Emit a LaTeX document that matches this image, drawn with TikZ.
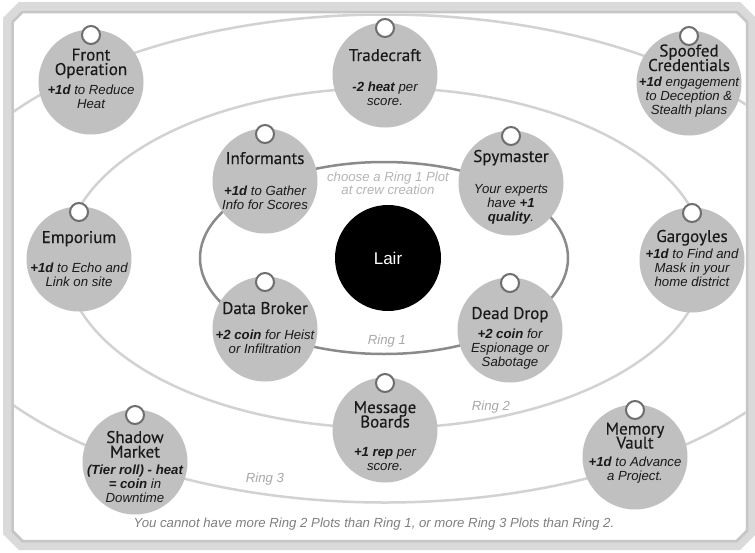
\documentclass[tikz,border=0pt]{standalone}
\usepackage{fontspec}
\setmainfont{Liberation Sans}
\newfontfamily\ttlfont[FakeBold=0.35]{PT Sans}
\usetikzlibrary{calc}
\definecolor{plotgray}{HTML}{C0C0C0}
\definecolor{pindark}{HTML}{6E6E6E}
\definecolor{ink}{HTML}{1A1A1A}
\definecolor{ringA}{HTML}{8A8A8A}
\definecolor{ringB}{HTML}{D2D2D2}
\definecolor{lblgray}{HTML}{A8A8A8}
\definecolor{notegray}{HTML}{808080}
\definecolor{frameL}{HTML}{DADADA}
\definecolor{frameD}{HTML}{C6C6C6}
\begin{document}
\begin{tikzpicture}[x=1pt,y=-1pt,
  plot/.style={circle,fill=plotgray,minimum size=105pt,inner sep=0pt},
  pinc/.style={circle,draw=pindark,line width=2pt,fill=white,minimum size=18pt,inner sep=0pt},
  ttl/.style={font=\ttlfont\fontsize{17}{15}\selectfont,text=ink,inner sep=0pt,anchor=base},
  dsc/.style={font=\itshape\fontsize{13.2}{14}\selectfont,align=center,text=ink,inner sep=0pt},
  ringlbl/.style={font=\itshape\fontsize{13.2}{13}\selectfont,text=lblgray,inner sep=0pt},
  ring/.style={line width=2.5pt}]
\useasboundingbox (0,0) rectangle (755,552);
\fill[white] (0,0) rectangle (755,552);
% frame
\draw[frameL,line width=10pt,line join=miter]
  (8,20) -- (21,7) -- (738,7) -- (751,20) -- (751,532) -- (738,545) -- (21,545) -- (8,532) -- cycle;
\draw[frameD,line width=2.5pt,line join=miter]
  (12.5,22) -- (22.5,12) -- (737,12) -- (747,22) -- (747,531) -- (737,541) -- (22.5,541) -- (12.5,531) -- cycle;
% rings
\begin{scope}
\clip (14,22) -- (22.5,13.5) -- (737,13.5) -- (745.5,22) -- (745.5,531) -- (737,539.5) -- (22.5,539.5) -- (14,531) -- cycle;
\draw[ring,ringB] (385,258.5) ellipse [x radius=465pt, y radius=244pt];
\draw[ring,ringB] (385,258) ellipse [x radius=320pt, y radius=170pt];
\draw[ring,ringA] (384,258) ellipse [x radius=184pt, y radius=96pt];
\end{scope}
% ring labels
\node[ringlbl] (r1) at (387,341) {Ring 1};
\node[ringlbl] (r2) at (491,407) {Ring 2};
\node[ringlbl] (r3) at (265,479) {Ring 3};
\node[ringlbl,align=center,text=lblgray!85] (choose) at (388,183.5) {choose a Ring 1 Plot\\at crew creation};
\node[font=\itshape\fontsize{13.2}{14}\selectfont,text=notegray,inner sep=0pt] (note) at (374,524)
  {You cannot have more Ring 2 Plots than Ring 1, or more Ring 3 Plots than Ring 2.};
% lair
\node[circle,fill=black,minimum size=106pt,inner sep=0pt,text=white,font=\fontsize{17}{20}\selectfont] (lair) at (388,258) {Lair};
% plots
\node[plot] (fo) at (91,82) {};
\node[plot] (tc) at (385,75) {};
\node[plot] (sc) at (689,83) {};
\node[plot] (inf) at (265,181) {};
\node[plot] (spy) at (511,183) {};
\node[plot] (emp) at (79,259) {};
\node[plot] (gar) at (692,260) {};
\node[plot] (db) at (265,329) {};
\node[plot] (dd) at (510,330) {};
\node[plot] (mb) at (385,430) {};
\node[plot] (sm) at (135,462) {};
\node[plot] (mv) at (635,457) {};
% pins
\foreach \n in {fo,tc,sc,inf,spy,emp,gar,db,dd,mb,sm,mv}
  \node[pinc] (\n-pin) at ($(\n)+(0,-47)$) {};
% texts
\node[ttl] (fo-t1) at (91,60.5) {Front};
\node[ttl] (fo-t2) at (91,75) {Operation};
\node[dsc] (fo-d) at (91,97) {\textbf{+1d} to Reduce\\Heat};
\node[ttl] (tc-t) at (385,61) {Tradecraft};
\node[dsc] (tc-d) at (385,94) {\textbf{-2 heat} per\\score.};
\node[ttl] (sc-t1) at (689,56.5) {Spoofed};
\node[ttl] (sc-t2) at (689,71) {Credentials};
\node[dsc] (sc-d) at (689,97) {\textbf{+1d} engagement\\to Deception \&\\Stealth plans};
\node[ttl] (inf-t) at (265,164) {Informants};
\node[dsc] (inf-d) at (265,198) {\textbf{+1d} to Gather\\Info for Scores};
\node[ttl] (spy-t) at (511,162) {Spymaster};
\node[dsc] (spy-d) at (511,204) {Your experts\\have \textbf{+1}\\\textbf{quality}.};
\node[ttl] (emp-t) at (79,243) {Emporium};
\node[dsc] (emp-d) at (79,275) {\textbf{+1d} to Echo and\\Link on site};
\node[ttl] (gar-t) at (692,242) {Gargoyles};
\node[dsc] (gar-d) at (692,268) {\textbf{+1d} to Find and\\Mask in your\\home district};
\node[ttl] (db-t) at (265,314) {Data Broker};
\node[dsc] (db-d) at (265,342) {\textbf{+2 coin} for Heist\\or Infiltration};
\node[ttl] (dd-t) at (510,319) {Dead Drop};
\node[dsc] (dd-d) at (510,349) {\textbf{+2 coin} for\\Espionage or\\Sabotage};
\node[ttl] (mb-t1) at (385,413) {Message};
\node[ttl] (mb-t2) at (385,427.5) {Boards};
\node[dsc] (mb-d) at (385,459.5) {\textbf{+1 rep} per\\score.};
\node[ttl] (sm-t1) at (135,443) {Shadow};
\node[ttl] (sm-t2) at (135,457.5) {Market};
\node[dsc] (sm-d) at (135,483.5) {\textbf{(Tier roll) - heat}\\\textbf{= coin} in\\Downtime};
\node[ttl] (mv-t1) at (635,434.5) {Memory};
\node[ttl] (mv-t2) at (635,448.5) {Vault};
\node[dsc] (mv-d) at (635,470) {\textbf{+1d} to Advance\\a Project.};
\end{tikzpicture}
\end{document}
